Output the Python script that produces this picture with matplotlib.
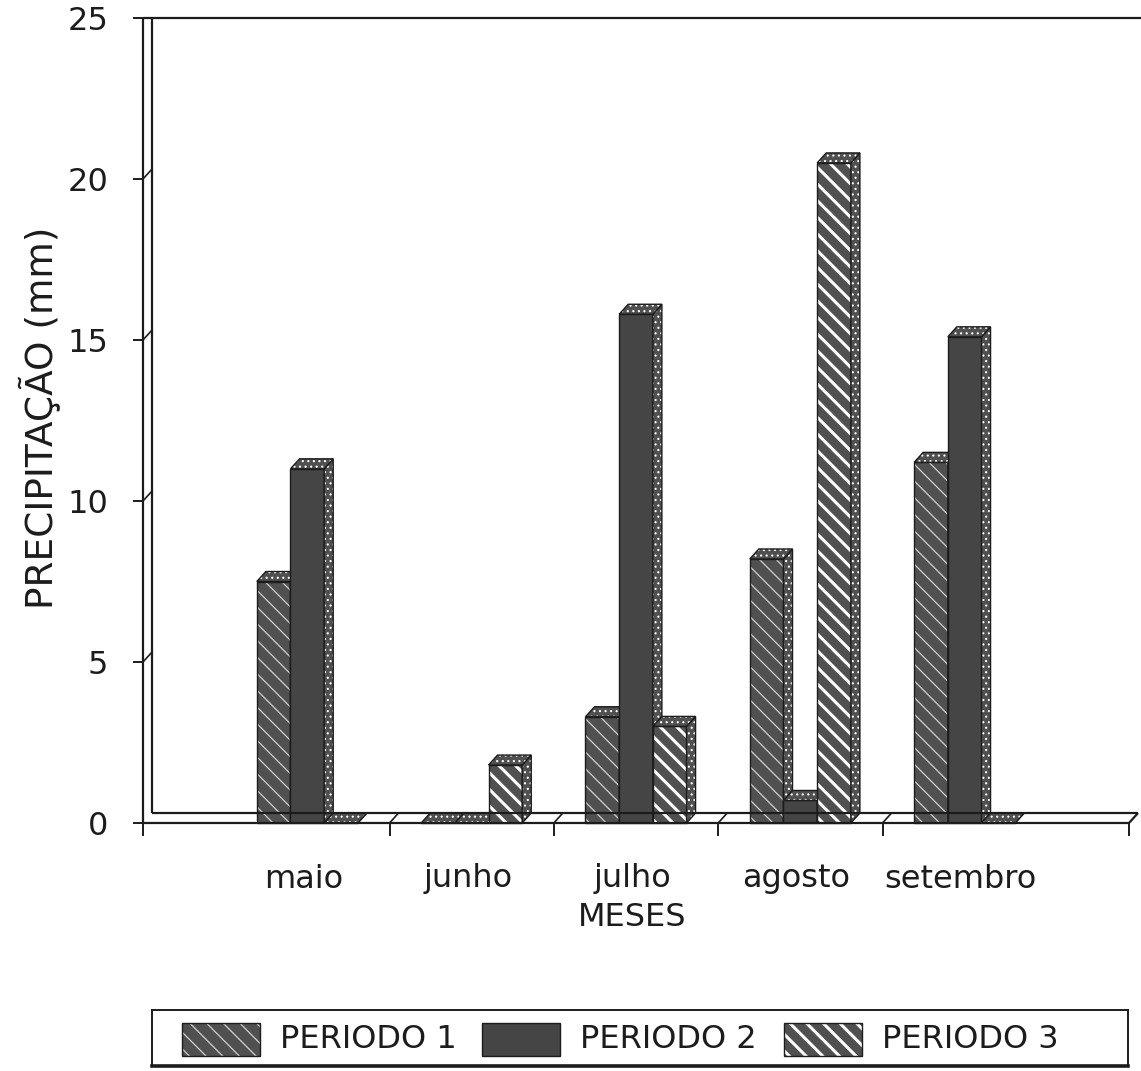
import matplotlib
matplotlib.use('Agg')
import matplotlib.pyplot as plt
from matplotlib.patches import Polygon, Rectangle

# monthly rainfall (mm) for the three periods
meses = ['maio', 'junho', 'julho', 'agosto', 'setembro']
periodo_1 = [7.5, 0.0, 3.3, 8.2, 11.2]
periodo_2 = [11.0, 0.0, 15.8, 0.7, 15.1]
periodo_3 = [0.0, 1.8, 3.0, 20.5, 0.0]
periodos = ['PERIODO 1', 'PERIODO 2', 'PERIODO 3']
y_ticks = [0, 5, 10, 15, 20, 25]

plt.rcParams['font.family'] = ['DejaVu Sans']

W, H = 1141, 1071
INK = '#1c1c1c'
DARK = '#505050'

# front face styles for each period: (face, hatch, hatch colour, hatch width)
FACES = [
    (DARK, '\\\\', '#d0d0d0', 0.9),
    ('#454545', None, None, 0),
    (DARK, '\\\\', 'white', 2.2),
]

fig = plt.figure(figsize=(W / 100, H / 100), dpi=100)
ax = fig.add_axes([143 / W, 1 - 823 / H, 986 / W, 805 / H])
ax.set_xlim(-1, 5)
ax.set_ylim(0, 25)
for s in ax.spines.values():
    s.set_visible(False)

# 3-D depth in data units, roughly 9 px across and 10 px up
dx = 0.055
dy = 0.31
bar_w = 0.205


def hatched(poly_xy, face, hatch, hcolor, hlw):
    p = Polygon(poly_xy, closed=True, facecolor=face, edgecolor=hcolor or face,
                hatch=hatch, linewidth=0, clip_on=False)
    if hatch and hasattr(p, 'set_hatch_linewidth'):
        p.set_hatch_linewidth(hlw)
    ax.add_patch(p)
    ax.add_patch(Polygon(poly_xy, closed=True, fill=False, edgecolor=INK,
                         linewidth=1.0, clip_on=False))


def bar3d(x0, v, style):
    face, hatch, hcolor, hlw = style
    x1 = x0 + bar_w
    front = [(x0, 0), (x1, 0), (x1, v), (x0, v)]
    side = [(x1, 0), (x1 + dx, dy), (x1 + dx, v + dy), (x1, v)]
    top = [(x0, v), (x1, v), (x1 + dx, v + dy), (x0 + dx, v + dy)]
    hatched(front, face, hatch, hcolor, hlw)
    hatched(side, DARK, '...', 'white', 0.8)
    hatched(top, DARK, '...', 'white', 0.8)


# floor and left wall of the box
line = dict(color=INK, lw=1.6, clip_on=False, solid_capstyle='butt')
ax.plot([-1, 5], [0, 0], **line)
ax.plot([-1 + dx, 5 + dx], [dy, dy], **line)
ax.plot([5, 5 + dx], [0, dy], **line)
ax.plot([-1, -1], [0, 25], **line)
ax.plot([-1 + dx, -1 + dx], [dy, 25], **line)
ax.plot([-1, 5 + 2 * dx], [25, 25], **line)
for xb in [0.5, 1.5, 2.5, 3.5]:
    ax.plot([xb, xb + dx], [0, dy], color=INK, lw=1.2, clip_on=False)
for yt in y_ticks[1:-1]:
    ax.plot([-1, -1 + dx], [yt, yt + dy], color=INK, lw=1.2, clip_on=False)

# bars, drawn left to right so the nearer bar hides the side of the previous
series = [periodo_1, periodo_2, periodo_3]
for i in range(len(meses)):
    for k, vals in enumerate(series):
        x0 = i - 1.5 * bar_w + k * bar_w
        bar3d(x0, vals[i], FACES[k])

# axis ticks
ax.set_yticks(y_ticks)
ax.set_yticklabels([str(t) for t in y_ticks])
ax.tick_params(axis='y', direction='out', length=7, width=1.4, color=INK,
               pad=18, labelsize=23, labelcolor=INK)
ax.set_xticks([-1, 0.5, 1.5, 2.5, 3.5, 5])
ax.set_xticklabels([])
ax.tick_params(axis='x', direction='out', length=9, width=1.4, color=INK)

for i, m in enumerate(meses):
    ax.annotate(m, xy=(i, 0), xytext=(-4, -56), textcoords='offset pixels',
                ha='center', va='center', fontsize=23, color=INK)
ax.annotate('MESES', xy=(2, 0), xytext=(-4, -95), textcoords='offset pixels',
            ha='center', va='center', fontsize=23, color=INK)

fig.text(40 / W, 1 - 418 / H, 'PRECIPITAÇÃO (mm)', rotation=90,
         ha='center', va='center', fontsize=27, color=INK)

# legend box
lax = fig.add_axes([152 / W, 1 - 1066 / H, 976 / W, 56 / H])
lax.set_xlim(0, 976)
lax.set_ylim(0, 56)
lax.set_xticks([])
lax.set_yticks([])
for name, s in lax.spines.items():
    s.set_color(INK)
    s.set_linewidth(2.6 if name == 'bottom' else 1.4)

legend_x = [30, 330, 632]
for k, label in enumerate(periodos):
    face, hatch, hcolor, hlw = FACES[k]
    r = Rectangle((legend_x[k], 10), 78, 33, facecolor=face,
                  edgecolor=hcolor or face, hatch=hatch, linewidth=0)
    if hatch and hasattr(r, 'set_hatch_linewidth'):
        r.set_hatch_linewidth(hlw)
    lax.add_patch(r)
    lax.add_patch(Rectangle((legend_x[k], 10), 78, 33, fill=False,
                            edgecolor=INK, linewidth=1.0))
    lax.text(legend_x[k] + 98, 26, label, ha='left', va='center',
             fontsize=23, color=INK)

fig.savefig('out.png', dpi=100, facecolor='white')
